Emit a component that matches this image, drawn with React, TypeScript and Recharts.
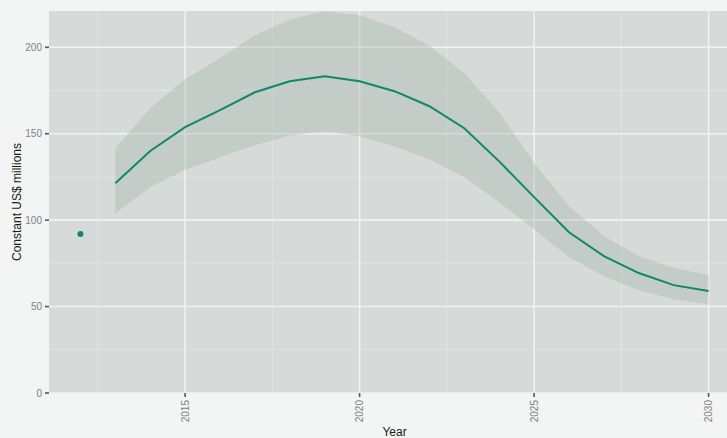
import { ComposedChart, Area, Line, Scatter, XAxis, YAxis, CartesianGrid } from "recharts";

const years = [2013, 2014, 2015, 2016, 2017, 2018, 2019, 2020, 2021, 2022, 2023, 2024, 2025, 2026, 2027, 2028, 2029, 2030];
const estimate = [121.4, 140, 153.8, 163.6, 174, 180.3, 183.2, 180.3, 174.6, 165.9, 153.2, 134, 113.3, 93, 79.2, 69.4, 62.4, 59];
const upper = [141.6, 164.7, 181.5, 193.6, 207, 216, 220.8, 218.5, 211.6, 201, 185, 162.4, 133, 108, 90.8, 79.2, 72.3, 68.2];
const lower = [104, 119, 129, 136.4, 143.4, 149, 151.4, 148.6, 142.8, 135.3, 124.9, 110.4, 94.8, 78.6, 67.6, 59.5, 54.3, 51.4];

const observedYears = [2012];
const observedValues = [92];

const xTicks = [2015, 2020, 2025, 2030];
const yTicks = [0, 50, 100, 150, 200];
const xMinor = [2012.5, 2017.5, 2022.5, 2027.5];
const yMinor = [25, 75, 125, 175];

const data = years.map((year, i) => ({
  year,
  value: estimate[i],
  band: [lower[i], upper[i]],
}));
const observed = observedYears.map((year, i) => ({ year, value: observedValues[i] }));

const FONT = "'Liberation Sans', Arial, sans-serif";
const LINE = "#0f876c";

const XTick = (props: any) => {
  const { x, y, payload } = props;
  return (
    <g>
      <line x1={x} x2={x} y1={y - 8} y2={y - 4} stroke="#555" strokeWidth={1.6} />
      <text
        x={0}
        y={0}
        transform={`translate(${x + 3.5},${y - 1}) rotate(-90)`}
        textAnchor="end"
        fontSize={10}
        fill="#7f7f7f"
        fontFamily={FONT}
      >
        {payload.value}
      </text>
    </g>
  );
};

const YTick = (props: any) => {
  const { x, y, payload } = props;
  return (
    <g>
      <line x1={x + 4} x2={x + 8} y1={y} y2={y} stroke="#555" strokeWidth={1.6} />
      <text x={x + 1} y={y} dy="0.35em" textAnchor="end" fontSize={10} fill="#7f7f7f" fontFamily={FONT}>
        {payload.value}
      </text>
    </g>
  );
};

export default function App() {
  return (
    <div
      style={{
        position: "absolute",
        left: 0,
        top: 0,
        width: 727,
        height: 438,
        overflow: "hidden",
        background: "#f2f5f4",
      }}
    >
      <ComposedChart width={740} height={438} margin={{ top: 11, right: 0, bottom: 0, left: 0 }}>
        <CartesianGrid
          horizontalPoints={yMinor.map((v) => 393 - (v / 221) * 382)}
          verticalPoints={xMinor.map((v) => 49 + ((v - 2011.1) / 19.8) * 691)}
          stroke="#e3e6e5"
          strokeWidth={0.8}
          fill="#d6dad8"
          fillOpacity={1}
        />
        <CartesianGrid
          horizontalPoints={yTicks.map((v) => 393 - (v / 221) * 382)}
          verticalPoints={xTicks.map((v) => 49 + ((v - 2011.1) / 19.8) * 691)}
          stroke="#f1f3f2"
          strokeWidth={1.6}
        />
        <XAxis
          dataKey="year"
          type="number"
          domain={[2011.1, 2030.9]}
          ticks={xTicks}
          allowDataOverflow
          height={45}
          axisLine={false}
          tickLine={false}
          tick={<XTick />}
          label={{ value: "Year", position: "insideBottom", offset: 2, fontSize: 12, fill: "#1a1a1a", fontFamily: FONT }}
        />
        <YAxis
          type="number"
          domain={[0, 221]}
          ticks={yTicks}
          allowDataOverflow
          width={49}
          axisLine={false}
          tickLine={false}
          tick={<YTick />}
          label={{
            value: "Constant US$ millions",
            angle: -90,
            position: "center",
            dx: -8,
            fontSize: 12,
            fill: "#1a1a1a",
            fontFamily: FONT,
          }}
        />
        <Area
          data={data}
          dataKey="band"
          type="linear"
          stroke="none"
          fill="#a6b6ab"
          fillOpacity={0.38}
          isAnimationActive={false}
          activeDot={false}
        />
        <Line
          data={data}
          dataKey="value"
          type="linear"
          stroke={LINE}
          strokeWidth={2}
          dot={false}
          isAnimationActive={false}
        />
        <Scatter
          data={observed}
          dataKey="value"
          fill={LINE}
          shape={(p: any) => <circle cx={p.cx} cy={p.cy} r={3} fill={LINE} />}
          isAnimationActive={false}
        />
      </ComposedChart>
    </div>
  );
}
